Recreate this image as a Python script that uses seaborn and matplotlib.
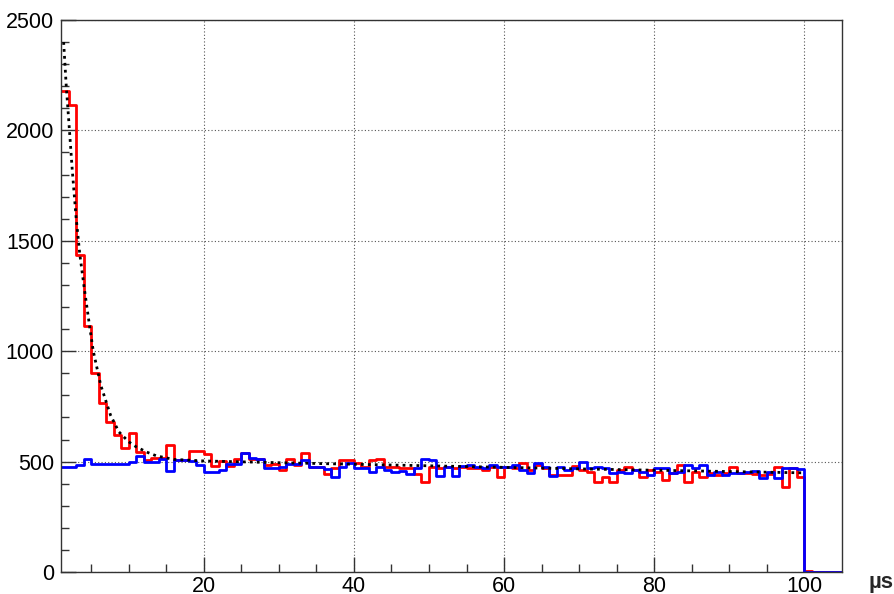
import numpy as np
import pandas as pd
import matplotlib
matplotlib.use("Agg")
import matplotlib.pyplot as plt
import seaborn as sns

# Bin edges (1 us wide) and per-bin counts
bin_edges = list(range(1, 106))
bin_centers = [b + 0.5 for b in range(1, 105)]

red_counts = [
    2180, 2115, 1435, 1115, 900, 765, 680, 620, 560, 628,
    545, 507, 516, 515, 577, 507, 507, 548, 548, 533,
    481, 503, 481, 512, 537, 512, 512, 485, 490, 462,
    512, 485, 537, 477, 477, 442, 470, 507, 507, 492,
    477, 507, 512, 477, 477, 470, 470, 442, 409, 477,
    470, 477, 470, 477, 470, 470, 462, 477, 432, 477,
    470, 492, 462, 485, 470, 439, 439, 439, 481, 462,
    454, 409, 430, 409, 462, 477, 462, 432, 462, 454,
    417, 447, 485, 409, 454, 432, 447, 439, 447, 477,
    447, 447, 442, 439, 442, 477, 386, 470, 432, 5,
    0, 0, 0, 0,
]

blue_counts = [
    477, 477, 484, 510, 487, 488, 488, 487, 487, 499,
    526, 500, 497, 510, 456, 507, 507, 503, 485, 454,
    454, 462, 488, 488, 537, 515, 512, 470, 470, 477,
    488, 488, 507, 477, 477, 466, 432, 477, 492, 470,
    470, 454, 477, 462, 454, 458, 442, 470, 512, 507,
    436, 477, 436, 481, 485, 477, 470, 485, 477, 477,
    485, 462, 447, 492, 477, 436, 477, 462, 470, 500,
    470, 477, 470, 447, 454, 447, 462, 454, 439, 470,
    470, 447, 454, 485, 471, 485, 439, 454, 439, 447,
    447, 454, 458, 424, 454, 424, 470, 470, 466, 2,
    0, 0, 0, 0,
]

# Fit curve (dotted)
fit_t = [1.35, 1.7, 2.0, 2.5, 3.0, 3.5, 4.1, 4.8, 5.3, 6.3, 7.6, 8.7, 10, 11,
         12.5, 13.7, 16, 20, 30, 40, 50, 60, 70, 80, 90, 100]
fit_y = [2400, 2200, 2060, 1820, 1610, 1440, 1285, 1115, 1000, 845, 710, 635,
         590, 567, 542, 526, 510, 503, 495, 488, 481, 474, 467, 461, 455, 449]

x_major = [20, 40, 60, 80, 100]
y_major = [0, 500, 1000, 1500, 2000, 2500]

sns.set_style("white")
plt.rcParams["font.family"] = ["Liberation Sans", "DejaVu Sans"]

fig = plt.figure(figsize=(8.94, 5.94), dpi=100)
ax = fig.add_axes([61 / 894, 1 - 572 / 594, 781 / 894, 552 / 594])

hist_df = pd.DataFrame({"t": bin_centers, "red": red_counts, "blue": blue_counts})

sns.histplot(data=hist_df, x="t", weights="red", bins=bin_edges, element="step",
             fill=False, color="#ff0000", linewidth=2, ax=ax)
sns.histplot(data=hist_df, x="t", weights="blue", bins=bin_edges, element="step",
             fill=False, color="#0000ff", linewidth=2, ax=ax)
sns.lineplot(x=fit_t, y=fit_y, color="black", linestyle=(0, (1, 1.5)),
             linewidth=2, sort=True, ax=ax)

ax.set_xlim(1, 105)
ax.set_ylim(0, 2500)
ax.set_xticks(x_major)
ax.set_yticks(y_major)
ax.set_xticks(np.arange(5, 105, 5), minor=True)
ax.set_yticks(np.arange(100, 2500, 100), minor=True)
ax.set_xlabel("")
ax.set_ylabel("")

ax.grid(True, which="major", color="#555555", linestyle=(0, (1, 2)), linewidth=0.8)
ax.grid(False, which="minor")
ax.set_axisbelow(True)

ax.tick_params(axis="both", which="both", bottom=True, left=True,
               top=False, right=False, direction="in", color="#333333")
ax.tick_params(axis="both", which="major", length=11, width=1,
               labelsize=15.5, labelcolor="black")
ax.tick_params(axis="x", which="major", pad=3)
ax.tick_params(axis="y", which="major", pad=5)
ax.tick_params(axis="both", which="minor", length=5.5, width=1)

for sp in ax.spines.values():
    sp.set_color("#333333")
    sp.set_linewidth(1)

fig.text(0.999, 1 - 588 / 594, "µs", ha="right", va="baseline",
         fontsize=16, fontweight="bold")

fig.savefig("out.png", dpi=100)
